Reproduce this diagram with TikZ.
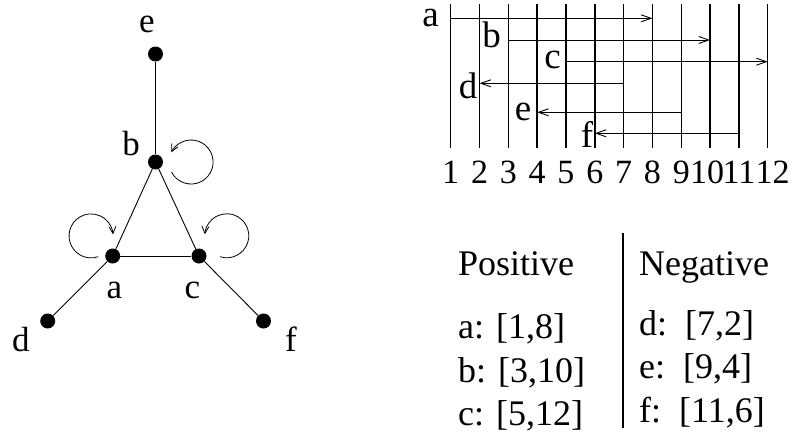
\documentclass[tikz,border=0pt]{standalone}
\usepackage{fontspec}
\setmainfont{Liberation Serif}
\usetikzlibrary{arrows.meta,positioning,calc}
\tikzset{
  vertex/.style={circle, fill, inner sep=0pt, minimum size=15pt},
  vlabel/.style={font=\fontsize{35}{40}\selectfont, inner sep=0pt, anchor=base},
  graphline/.style={line width=0.9pt},
  selfloop/.style={-{Straight Barb[length=7pt,width=7pt]}, line width=0.8pt},
  ivline/.style={line width=1.5pt},
  ivarrow/.style={-{Straight Barb[length=10pt,width=7pt]}, line width=0.9pt},
  ivlabel/.style={font=\fontsize{37}{40}\selectfont, inner sep=0pt, anchor=base},
  numlabel/.style={font=\fontsize{34}{40}\selectfont, inner sep=0pt, anchor=base},
  tabtext/.style={font=\fontsize{36}{40}\selectfont, inner sep=0pt, anchor=base west},
  divider/.style={line width=2.2pt}
}
\begin{document}
\begin{tikzpicture}[x=1pt,y=-1pt]
  \useasboundingbox[fill=white] (0,0) rectangle (793,434);

  \node[vertex] (e) at (155.5,54) {};
  \node[vertex] (b) at (155.5,162) {};
  \node[vertex] (a) at (112.7,256) {};
  \node[vertex] (c) at (199,256) {};
  \node[vertex] (d) at (47.7,321) {};
  \node[vertex] (f) at (263.5,321) {};
  \node[vlabel] (le) at (147,32.5) {e};
  \node[vlabel] (lb) at (131,155) {b};
  \node[vlabel] (la) at (114.5,298) {a};
  \node[vlabel] (lc) at (192.5,298) {c};
  \node[vlabel] (ld) at (21,351) {d};
  \node[vlabel] (lf) at (291,351) {f};
  \draw[graphline] (e) -- (b);
  \draw[graphline] (b) -- (a);
  \draw[graphline] (b) -- (c);
  \draw[graphline] (a) -- (c);
  \draw[graphline] (a) -- (d);
  \draw[graphline] (c) -- (f);
  \draw[selfloop] ([shift={(16,10)}]b.center) arc[start angle=153, end angle=-154, radius=22];
  \draw[selfloop] ([shift={(-14.5,0.7)}]a.center) arc[start angle=71, end angle=356, radius=22];
  \draw[selfloop] ([shift={(21,0.7)}]c.center) arc[start angle=108, end angle=-176, radius=22];

  \foreach \i/\dx in {1/0,2/0,3/0,4/0,5/0,6/0,7/0,8/0,9/0,10/-3,11/0,12/5} {
    \pgfmathsetmacro{\xi}{450.7+(\i-1)*28.82}
    \coordinate (t\i) at (\xi,4);
    \coordinate (u\i) at (\xi,148);
    \draw[ivline] (t\i) -- (u\i);
    \node[numlabel] (n\i) at (\xi+\dx,183) {\i};
  }
  \foreach \name/\s/\e/\y/\lx/\ly in {a/1/8/18.3/430.7/26, b/3/10/40/491.7/47, c/5/12/61.7/552.7/68,
      d/7/2/83.3/468/98, e/9/4/112.3/523/120, f/11/6/133.3/587/147} {
    \coordinate (\name from) at (t\s |- 0,\y);
    \coordinate (\name to) at (t\e |- 0,\y);
    \draw[ivarrow] (\name from) -- (\name to);
    \node[ivlabel] (iv\name) at (\lx,\ly) {\name};
  }

  \node[tabtext] (pos) at (458,275) {Positive};
  \node[tabtext] (neg) at (639,275) {Negative};
  \node[tabtext] (pa) at (458,338) {a: [1,8]};
  \node[tabtext] (pb) at (458,382) {b: [3,10]};
  \node[tabtext] (pc) at (458,425) {c: [5,12]};
  \node[tabtext] (nd) at (639,335) {d:\ \ [7,2]};
  \node[tabtext] (ne) at (639,378) {e:\ \ [9,4]};
  \node[tabtext] (nf) at (639,422) {f:\ \ [11,6]};
  \coordinate (divtop) at (623,233);
  \coordinate (divbot) at (623,428);
  \draw[divider] (divtop) -- (divbot);
\end{tikzpicture}
\end{document}
